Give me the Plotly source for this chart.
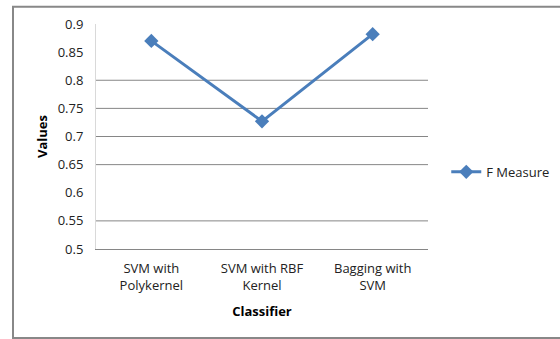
import plotly.graph_objects as go

# Classifier comparison: F Measure per classifier
classifiers = ["SVM with<br>Polykernel", "SVM with RBF<br>Kernel", "Bagging with<br>SVM"]
f_measure = [0.870, 0.727, 0.882]

# Axis ticks and horizontal gridlines
y_ticks = [0.5, 0.55, 0.6, 0.65, 0.7, 0.75, 0.8, 0.85, 0.9]
y_tick_text = ["0.5", "0.55", "0.6", "0.65", "0.7", "0.75", "0.8", "0.85", "0.9"]
grid_values = [0.55, 0.65, 0.7, 0.75, 0.8]

line_color = "#4a7ebb"
font_family = "Open Sans"
font_size = 13

fig = go.Figure()
fig.add_trace(go.Scatter(
    x=classifiers,
    y=f_measure,
    mode="lines+markers",
    name="F Measure",
    line=dict(color=line_color, width=3),
    marker=dict(symbol="diamond", size=11, color=line_color),
))

fig.update_layout(
    width=560,
    height=339,
    margin=dict(l=96, r=132, t=24, b=90, autoexpand=False),
    paper_bgcolor="white",
    plot_bgcolor="white",
    font=dict(family=font_family, size=font_size, color="#222222"),
    showlegend=True,
    legend=dict(
        x=1.055, y=0.343, xanchor="left", yanchor="middle",
        font=dict(family=font_family, size=font_size, color="#222222"),
        bgcolor="rgba(0,0,0,0)",
    ),
    xaxis=dict(
        type="category",
        range=[-0.5, 2.5],
        showgrid=False,
        showline=True,
        linecolor="#868686",
        linewidth=1,
        ticks="",
        tickfont=dict(family=font_family, size=font_size, color="#222222"),
        ticklabelstandoff=7,
        title=dict(text="<b>Classifier</b>", font=dict(family=font_family, size=font_size, color="#000000"), standoff=14),
        zeroline=False,
    ),
    yaxis=dict(
        range=[0.5, 0.9],
        tickvals=y_ticks,
        ticktext=y_tick_text,
        showgrid=False,
        zeroline=False,
        showline=True,
        linecolor="#d9d9d9",
        linewidth=1,
        ticks="",
        ticklabelstandoff=9,
        tickfont=dict(family=font_family, size=font_size, color="#222222"),
        title=dict(text="<b>Values</b>", font=dict(family=font_family, size=font_size, color="#000000"), standoff=7),
    ),
)

# horizontal gridlines
for gv in grid_values:
    fig.add_shape(
        type="line", xref="paper", yref="y",
        x0=0, x1=1, y0=gv, y1=gv,
        line=dict(color="#868686", width=1),
        layer="below",
    )

# outer chart frame
fig.add_shape(
    type="rect", xref="paper", yref="paper",
    x0=-0.25, x1=1.5, y0=-0.396, y1=1.077,
    line=dict(color="#888888", width=2),
    fillcolor="rgba(0,0,0,0)",
    layer="below",
)

fig.write_html("out.html")
